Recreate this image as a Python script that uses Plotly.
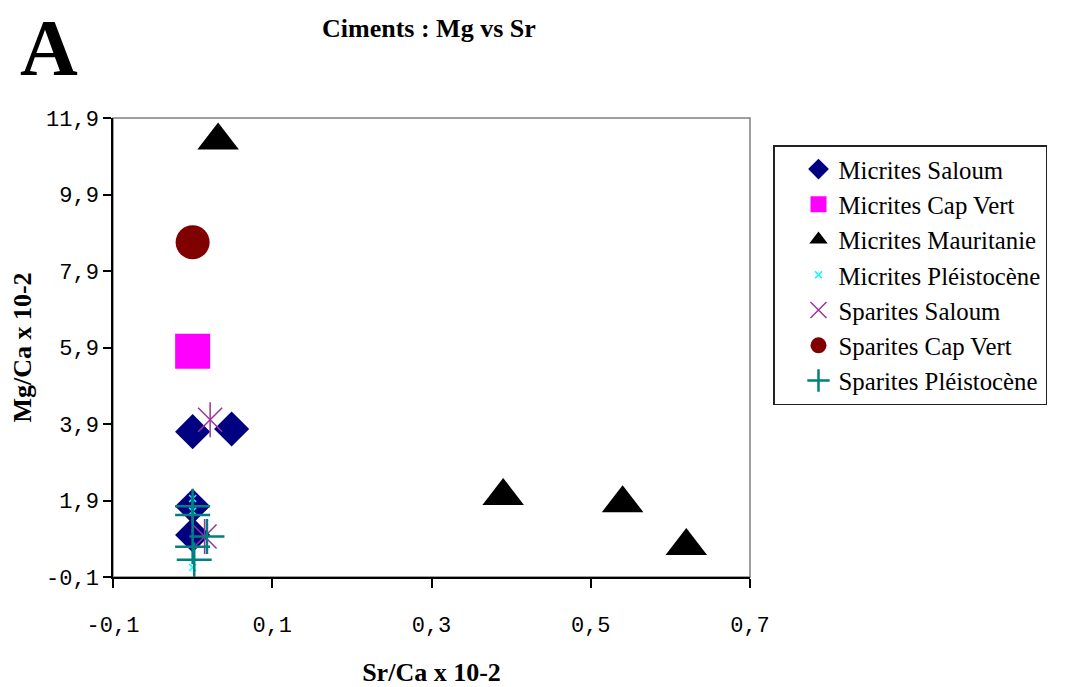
import plotly.graph_objects as go

# ---- data (Sr/Ca x 10-2 , Mg/Ca x 10-2) ----
micrites_saloum_x = [0.0, 0.049, 0.0, 0.0]
micrites_saloum_y = [3.70, 3.77, 1.75, 1.00]

micrites_capvert_x = [0.0]
micrites_capvert_y = [5.80]

micrites_mauritanie_x = [0.032, 0.39, 0.54, 0.62]
micrites_mauritanie_y = [11.31, 2.02, 1.83, 0.71]

micrites_pleistocene_x = [0.0, 0.0, 0.0]
micrites_pleistocene_y = [1.95, 1.62, 0.15]

sparites_saloum_x = [0.022, 0.015]
sparites_saloum_y = [4.01, 0.96]

sparites_capvert_x = [0.0]
sparites_capvert_y = [8.65]

sparites_pleistocene_x = [0.0, 0.0, 0.018, 0.0, 0.002]
sparites_pleistocene_y = [1.75, 1.52, 0.96, 0.69, 0.35]

x_tickvals = [-0.1, 0.1, 0.3, 0.5, 0.7]
x_ticktext = ["-0,1", "0,1", "0,3", "0,5", "0,7"]
y_tickvals = [-0.1, 1.9, 3.9, 5.9, 7.9, 9.9, 11.9]
y_ticktext = ["-0,1", "1,9", "3,9", "5,9", "7,9", "9,9", "11,9"]

SERIF = "Liberation Serif, Times New Roman, serif"
MONO = "Liberation Mono, Courier New, monospace"

# page body adds an 8px offset; figure is sized/positioned to compensate
OFF = 8
W, H = 1069 - OFF, 687 - OFF
L, T = 113 - OFF, 118 - OFF
PW, PH = 637, 459
R, B = W - L - PW, H - T - PH


def px(xp):
    return (xp - OFF - L) / PW


def py(yp):
    return (T + PH - (yp - OFF)) / PH


fig = go.Figure()

fig.add_trace(go.Scatter(
    x=micrites_saloum_x, y=micrites_saloum_y, mode="markers", name="Micrites Saloum",
    legendgroup="g1",
    marker=dict(symbol="diamond", size=27, color="#000080", line=dict(width=0)),
    cliponaxis=False))
fig.add_trace(go.Scatter(
    x=micrites_capvert_x, y=micrites_capvert_y, mode="markers", name="Micrites Cap Vert",
    legendgroup="g2",
    marker=dict(symbol="square", size=35, color="#FF00FF", line=dict(width=0)),
    cliponaxis=False))
fig.add_trace(go.Scatter(
    x=micrites_mauritanie_x, y=micrites_mauritanie_y, mode="markers", name="Micrites Mauritanie",
    legendgroup="g3",
    marker=dict(symbol="triangle-up", size=36, color="#000000", line=dict(width=0)),
    cliponaxis=False))
fig.add_trace(go.Scatter(
    x=micrites_pleistocene_x, y=micrites_pleistocene_y, mode="markers", name="Micrites Pléistocène",
    legendgroup="g4",
    marker=dict(symbol="x-thin-open", size=7, color="#00FFFF", line=dict(width=1.5, color="#00FFFF")),
    cliponaxis=False))
fig.add_trace(go.Scatter(
    x=sparites_saloum_x, y=sparites_saloum_y, mode="markers", name="Sparites Saloum",
    legendgroup="g5",
    marker=dict(symbol="x-thin-open", size=24, color="#993399", line=dict(width=1.5, color="#993399")),
    cliponaxis=False))
fig.add_trace(go.Scatter(
    x=sparites_saloum_x, y=sparites_saloum_y, mode="markers", name="Sparites Saloum",
    legendgroup="g5", showlegend=False,
    marker=dict(symbol="line-ns-open", size=25, color="#993399", line=dict(width=1.5, color="#993399")),
    cliponaxis=False))
fig.add_trace(go.Scatter(
    x=sparites_capvert_x, y=sparites_capvert_y, mode="markers", name="Sparites Cap Vert",
    legendgroup="g6",
    marker=dict(symbol="circle", size=34, color="#800000", line=dict(width=0)),
    cliponaxis=False))
fig.add_trace(go.Scatter(
    x=sparites_pleistocene_x, y=sparites_pleistocene_y, mode="markers", name="Sparites Pléistocène",
    legendgroup="g7",
    marker=dict(symbol="cross-thin-open", size=25, color="#008080", line=dict(width=2.5, color="#008080")),
    cliponaxis=False))

# plot-area frame (grey border)
fig.add_shape(type="rect", xref="paper", yref="paper", x0=0, y0=0, x1=1, y1=1,
              line=dict(color="#808080", width=1.5), layer="below")

fig.update_layout(
    width=W, height=H,
    margin=dict(l=L, r=R, t=T, b=B, pad=0, autoexpand=False),
    paper_bgcolor="white", plot_bgcolor="white",
    showlegend=True,
    legend=dict(
        x=px(773), xanchor="left", y=py(145), yanchor="top",
        bordercolor="#222222", borderwidth=1.5, bgcolor="white",
        font=dict(family=SERIF, size=24.8, color="black"),
        tracegroupgap=0, indentation=24, traceorder="grouped",
    ),
    xaxis=dict(
        range=[-0.1, 0.7], tickvals=x_tickvals, ticktext=x_ticktext, automargin=False,
        showgrid=False, zeroline=False, showline=True, linecolor="black", linewidth=1.5,
        ticks="outside", ticklen=9, tickcolor="black", tickwidth=1.5,
        tickfont=dict(family=MONO, size=22, color="black"), ticklabelstandoff=18,
        title=dict(text="<b>Sr/Ca x 10-2</b>", font=dict(family=SERIF, size=26, color="black"), standoff=27),
    ),
    yaxis=dict(
        range=[-0.1, 11.9], tickvals=y_tickvals, ticktext=y_ticktext, automargin=False,
        showgrid=False, zeroline=False, showline=True, linecolor="black", linewidth=1.5,
        ticks="outside", ticklen=8, tickcolor="black", tickwidth=1.5,
        tickfont=dict(family=MONO, size=22, color="black"), ticklabelstandoff=0,
        title=dict(text="<b>Mg/Ca x 10-2</b>", font=dict(family=SERIF, size=26, color="black"), standoff=8),
    ),
    annotations=[
        dict(text="<b>Ciments : Mg vs Sr</b>", xref="paper", yref="paper",
             x=px(429), y=py(28), xanchor="center", yanchor="middle",
             showarrow=False, font=dict(family=SERIF, size=26, color="black")),
        dict(text="<b>A</b>", xref="paper", yref="paper",
             x=px(49), y=py(48), xanchor="center", yanchor="middle", height=72,
             showarrow=False, font=dict(family=SERIF, size=80, color="black")),
    ],
)

fig.write_html("out.html")
